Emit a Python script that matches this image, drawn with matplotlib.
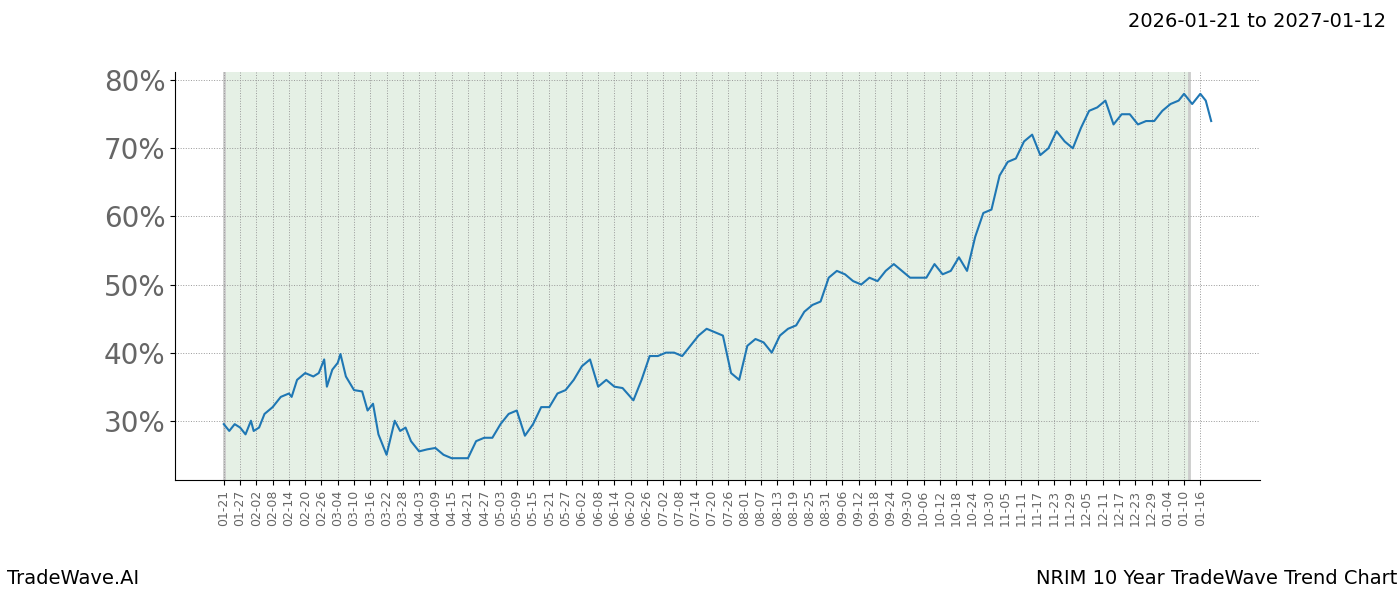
import matplotlib
matplotlib.use("Agg")
import matplotlib.pyplot as plt
import pandas as pd

dates = pd.to_datetime([
    "2026-01-21", "2026-01-23", "2026-01-25", "2026-01-27", "2026-01-29", "2026-01-31", "2026-02-01",
    "2026-02-03", "2026-02-05", "2026-02-08", "2026-02-11", "2026-02-14", "2026-02-15", "2026-02-17",
    "2026-02-20", "2026-02-23", "2026-02-25", "2026-02-27", "2026-02-28", "2026-03-02", "2026-03-04",
    "2026-03-05", "2026-03-07", "2026-03-10", "2026-03-13", "2026-03-15", "2026-03-17", "2026-03-19",
    "2026-03-22", "2026-03-25", "2026-03-27", "2026-03-29", "2026-03-31", "2026-04-03", "2026-04-06",
    "2026-04-09", "2026-04-12", "2026-04-15", "2026-04-18", "2026-04-21", "2026-04-24", "2026-04-27",
    "2026-04-30", "2026-05-03", "2026-05-06", "2026-05-09", "2026-05-12", "2026-05-15", "2026-05-18",
    "2026-05-21", "2026-05-24", "2026-05-27", "2026-05-30", "2026-06-02", "2026-06-05", "2026-06-08",
    "2026-06-11", "2026-06-14", "2026-06-17", "2026-06-21", "2026-06-24", "2026-06-27", "2026-06-30",
    "2026-07-03", "2026-07-06", "2026-07-09", "2026-07-12", "2026-07-15", "2026-07-18", "2026-07-21",
    "2026-07-24", "2026-07-27", "2026-07-30", "2026-08-02", "2026-08-05", "2026-08-08", "2026-08-11",
    "2026-08-14", "2026-08-17", "2026-08-20", "2026-08-23", "2026-08-26", "2026-08-29", "2026-09-01",
    "2026-09-04", "2026-09-07", "2026-09-10", "2026-09-13", "2026-09-16", "2026-09-19", "2026-09-22",
    "2026-09-25", "2026-09-28", "2026-10-01", "2026-10-04", "2026-10-07", "2026-10-10", "2026-10-13",
    "2026-10-16", "2026-10-19", "2026-10-22", "2026-10-25", "2026-10-28", "2026-10-31", "2026-11-03",
    "2026-11-06", "2026-11-09", "2026-11-12", "2026-11-15", "2026-11-18", "2026-11-21", "2026-11-24",
    "2026-11-27", "2026-11-30", "2026-12-03", "2026-12-06", "2026-12-09", "2026-12-12", "2026-12-15",
    "2026-12-18", "2026-12-21", "2026-12-24", "2026-12-27", "2026-12-30", "2027-01-02", "2027-01-05",
    "2027-01-08", "2027-01-10", "2027-01-13", "2027-01-16", "2027-01-18", "2027-01-20",
])
values = [
    29.5, 28.5, 29.5, 29.0, 28.0, 30.0, 28.5,
    29.0, 31.0, 32.0, 33.5, 34.0, 33.5, 36.0,
    37.0, 36.5, 37.0, 39.0, 35.0, 37.5, 38.5,
    39.8, 36.5, 34.5, 34.3, 31.5, 32.5, 28.0,
    25.0, 30.0, 28.5, 29.0, 27.0, 25.5, 25.8,
    26.0, 25.0, 24.5, 24.5, 24.5, 27.0, 27.5,
    27.5, 29.5, 31.0, 31.5, 27.8, 29.5, 32.0,
    32.0, 34.0, 34.5, 36.0, 38.0, 39.0, 35.0,
    36.0, 35.0, 34.8, 33.0, 36.0, 39.5, 39.5,
    40.0, 40.0, 39.5, 41.0, 42.5, 43.5, 43.0,
    42.5, 37.0, 36.0, 41.0, 42.0, 41.5, 40.0,
    42.5, 43.5, 44.0, 46.0, 47.0, 47.5, 51.0,
    52.0, 51.5, 50.5, 50.0, 51.0, 50.5, 52.0,
    53.0, 52.0, 51.0, 51.0, 51.0, 53.0, 51.5,
    52.0, 54.0, 52.0, 57.0, 60.5, 61.0, 66.0,
    68.0, 68.5, 71.0, 72.0, 69.0, 70.0, 72.5,
    71.0, 70.0, 73.0, 75.5, 76.0, 77.0, 73.5,
    75.0, 75.0, 73.5, 74.0, 74.0, 75.5, 76.5,
    77.0, 78.0, 76.5, 78.0, 77.0, 74.0,
]
shade_start = pd.Timestamp("2026-01-21")
shade_end = pd.Timestamp("2027-01-12")
tick_start = pd.Timestamp("2026-01-21")

fig = plt.figure(figsize=(14, 6), dpi=100)
ax = fig.add_axes([0.125, 0.2, 0.775, 0.68])

ax.axvspan(shade_start, shade_end, color="#e5f0e5", zorder=0)
ax.axvline(shade_start, color="#cccccc", lw=2, zorder=0)
ax.axvline(shade_end, color="#cccccc", lw=2, zorder=0)
ax.plot(dates, values, color="#1f77b4", lw=1.5, zorder=3)

ticks = pd.date_range(tick_start, "2027-01-16", freq="6D")
ax.set_xticks(ticks)
ax.set_xticklabels([t.strftime("%m-%d") for t in ticks], rotation=90,
                   fontsize=9, color="#666666")
ax.grid(True, axis="both", color="#999999", ls=":", lw=0.7)

ax.set_xlim(pd.Timestamp("2026-01-03"), pd.Timestamp("2027-02-07"))
ax.set_ylim(21.3, 81.2)
ax.set_yticks([30, 40, 50, 60, 70, 80])
ax.set_yticklabels([f"{v}%" for v in [30, 40, 50, 60, 70, 80]], fontsize=20, color="#666666")
ax.spines["top"].set_visible(False)
ax.spines["right"].set_visible(False)

fig.text(0.99, 0.98, "2026-01-21 to 2027-01-12", ha="right", va="top", fontsize=14)
fig.text(0.005, 0.02, "TradeWave.AI", ha="left", va="bottom", fontsize=14)
fig.text(0.998, 0.02, "NRIM 10 Year TradeWave Trend Chart", ha="right", va="bottom", fontsize=14)

fig.savefig("out.png")
